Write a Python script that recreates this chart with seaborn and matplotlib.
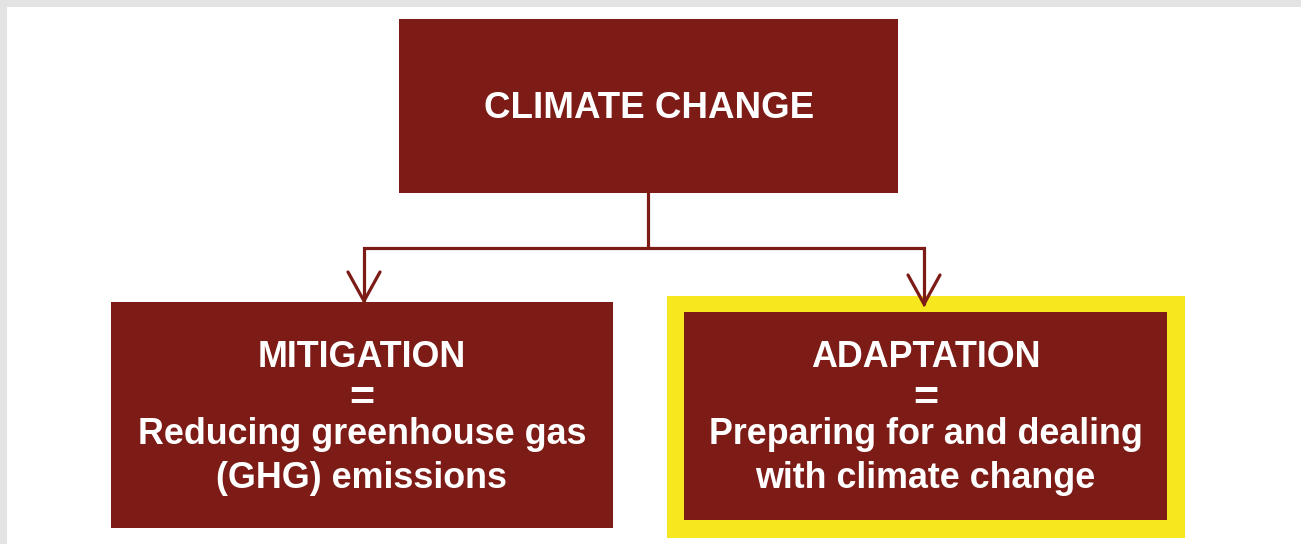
import matplotlib
matplotlib.use("Agg")
import matplotlib.pyplot as plt
from matplotlib.patches import Rectangle
import seaborn as sns

# ---- content ----
top_label = "CLIMATE CHANGE"
branch_titles = ["MITIGATION", "ADAPTATION"]
branch_line1 = ["Reducing greenhouse gas", "Preparing for and dealing"]
branch_line2 = ["(GHG) emissions", "with climate change"]
branch_highlight = [False, True]

# ---- style ----
sns.set_theme(style="white")
plt.rcParams["font.family"] = ["Liberation Sans", "DejaVu Sans"]
DARK = "#7d1b16"
YELLOW = "#f6e71e"
GRAY = "#e3e3e3"
LW = 2.3
FS = 25.8

fig = plt.figure(figsize=(13.01, 5.44), dpi=100)
ax = fig.add_axes([0, 0, 1, 1])
ax.set_xlim(0, 1301)
ax.set_ylim(544, 0)
ax.axis("off")

# frame
ax.add_patch(Rectangle((0, 0), 1301, 7, color=GRAY, lw=0))
ax.add_patch(Rectangle((0, 0), 7, 544, color=GRAY, lw=0))

# top box
ax.add_patch(Rectangle((399, 19), 499, 174, color=DARK, lw=0))
ax.text(649, 118, top_label, ha="center", va="baseline", color="white",
        fontsize=26.5, fontweight="bold")

# branch boxes
boxes = [(111, 302, 502, 226), (684, 312, 483, 208)]
for (x, y, w, h), title, l1, l2, hl in zip(boxes, branch_titles, branch_line1,
                                           branch_line2, branch_highlight):
    if hl:
        ax.add_patch(Rectangle((x - 17, y - 16), w + 35, h + 34, color=YELLOW, lw=0))
    ax.add_patch(Rectangle((x, y), w, h, color=DARK, lw=0, zorder=2))
    cx = x + w / 2
    ax.text(cx, 367, title, ha="center", va="baseline", color="white",
            fontsize=FS, fontweight="bold", zorder=3)
    ax.text(cx, 410, "=", ha="center", va="baseline", color="white",
            fontsize=31, fontweight="bold", zorder=3)
    ax.text(cx, 444, l1, ha="center", va="baseline", color="white",
            fontsize=FS, fontweight="bold", zorder=3)
    ax.text(cx, 488, l2, ha="center", va="baseline", color="white",
            fontsize=FS, fontweight="bold", zorder=3)

# connectors
ax.plot([648, 648], [193, 248], color=DARK, lw=LW, zorder=4)
ax.plot([364, 364, 924, 924], [301, 248, 248, 304], color=DARK, lw=LW,
        zorder=4, solid_joinstyle="miter")
for tx, ty in [(364, 301), (924, 304)]:
    ax.plot([tx - 16, tx, tx + 16], [ty - 29, ty, ty - 29], color=DARK, lw=LW,
            zorder=4, solid_capstyle="round", solid_joinstyle="miter")

fig.savefig("out.png", dpi=100, facecolor="white")
